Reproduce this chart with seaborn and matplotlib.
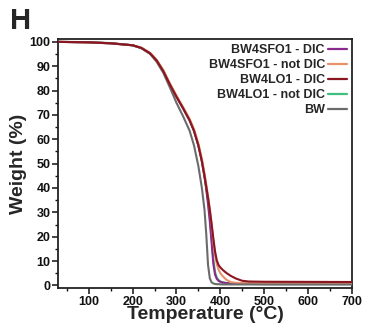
import numpy as np
import pandas as pd
import matplotlib
matplotlib.use("Agg")
import matplotlib.pyplot as plt
from matplotlib.ticker import MultipleLocator
import seaborn as sns

# Thermogravimetric curves: temperature (°C) vs remaining weight (%)
temperature = [30, 100, 150, 200, 220, 240, 255, 270, 285, 300, 315, 330, 340, 350,
               358, 364, 368, 372, 376, 380, 384, 388, 392, 396, 400, 406, 414, 424,
               436, 450, 465, 500, 600, 700]

bw4sfo1_dic = [100, 99.8, 99.4, 98.6, 97.5, 95.3, 92.3, 88.0, 82.5, 77.5, 72.8, 67.8,
               63.5, 57.5, 51.0, 44.5, 39.5, 33.5, 26.5, 18.0, 9.0, 4.5, 2.7, 1.9,
               1.5, 1.15, 0.95, 0.8, 0.7, 0.65, 0.6, 0.6, 0.6, 0.6]
bw4sfo1_not_dic = [100, 99.8, 99.4, 98.6, 97.6, 95.5, 92.6, 88.4, 83.0, 78.0, 73.3,
                   68.4, 64.2, 58.3, 52.0, 46.0, 41.5, 36.8, 31.5, 25.5, 18.5, 12.5,
                   8.8, 6.5, 5.0, 3.7, 2.3, 1.35, 1.05, 0.95, 0.95, 0.95, 0.95, 0.95]
bw4lo1_dic = [100, 99.8, 99.4, 98.6, 97.5, 95.3, 92.3, 88.0, 82.5, 77.5, 72.8, 67.8,
              63.5, 57.5, 51.0, 45.0, 40.5, 36.0, 31.0, 25.5, 19.5, 14.0, 10.3, 8.4,
              7.4, 6.3, 5.1, 3.9, 2.8, 1.9, 1.6, 1.5, 1.45, 1.4]
bw4lo1_not_dic = [100, 99.8, 99.4, 98.6, 97.5, 95.3, 92.3, 88.0, 82.5, 77.5, 72.8, 67.8,
                  63.5, 57.5, 51.0, 44.8, 40.0, 34.5, 28.0, 20.0, 11.0, 5.5, 3.2, 2.2,
                  1.6, 1.25, 1.0, 0.85, 0.75, 0.7, 0.7, 0.7, 0.7, 0.7]
bw = [100, 99.9, 99.5, 98.6, 97.4, 95.0, 91.8, 87.3, 81.3, 75.0, 69.5, 63.5, 57.5,
      49.0, 40.0, 31.0, 21.0, 8.5, 3.0, 1.3, 0.8, 0.6, 0.5, 0.5, 0.45, 0.4, 0.4, 0.4,
      0.4, 0.4, 0.4, 0.35, 0.35, 0.35]

series_names = ["BW4SFO1 - DIC", "BW4SFO1 - not DIC", "BW4LO1 - DIC",
                "BW4LO1 - not DIC", "BW"]
series_values = [bw4sfo1_dic, bw4sfo1_not_dic, bw4lo1_dic, bw4lo1_not_dic, bw]
colors = ["#8a2a8c", "#e8916c", "#8b1520", "#3fbf7f", "#6b6b6b"]

df = pd.concat(
    [pd.DataFrame({"Temperature": temperature, "Weight": vals, "Sample": name})
     for name, vals in zip(series_names, series_values)],
    ignore_index=True,
)

sns.set_style("ticks")
plt.rcParams["font.family"] = ["Liberation Sans", "DejaVu Sans"]
plt.rcParams["font.weight"] = "bold"

fig = plt.figure(figsize=(3.65, 3.3), dpi=100)
ax = fig.add_axes([0.159, 0.127, 0.805, 0.755])

sns.lineplot(data=df, x="Temperature", y="Weight", hue="Sample",
             hue_order=series_names, palette=colors, linewidth=1.5,
             sort=False, estimator=None, ax=ax)

# draw order: green underneath, dark red on top
z = {"BW4SFO1 - DIC": 3, "BW4SFO1 - not DIC": 4, "BW4LO1 - DIC": 6,
     "BW4LO1 - not DIC": 2, "BW": 5}
for line, name in zip(ax.lines, series_names):
    line.set_zorder(z[name])
    line.set_solid_joinstyle("round")

ax.set_xlim(30, 700)
ax.set_ylim(-1.1, 101.2)
ax.xaxis.set_major_locator(MultipleLocator(100))
ax.xaxis.set_minor_locator(MultipleLocator(50))
ax.yaxis.set_major_locator(MultipleLocator(10))
ax.yaxis.set_minor_locator(MultipleLocator(5))
ax.set_xticks(range(100, 701, 100))

ax.tick_params(which="major", direction="out", length=4, width=1.1,
               labelsize=9, pad=1.5, colors="#111111")
ax.tick_params(which="minor", direction="out", length=2, width=1.0, colors="#111111")
for lbl in ax.get_xticklabels() + ax.get_yticklabels():
    lbl.set_fontweight("bold")

for side in ["left", "bottom", "top", "right"]:
    ax.spines[side].set_visible(True)
    ax.spines[side].set_linewidth(1.3)
    ax.spines[side].set_color("#222222")

ax.set_xlabel("Temperature (°C)", fontsize=14, fontweight="bold", labelpad=-1)
ax.set_ylabel("Weight (%)", fontsize=14, fontweight="bold", labelpad=2)

handles, labels = ax.get_legend_handles_labels()
leg = ax.legend(handles, labels, loc="upper right", frameon=False,
                markerfirst=False, fontsize=9, handlelength=1.5,
                handletextpad=0.25, labelspacing=0.25, borderpad=0.2,
                borderaxespad=0.2)
for t in leg.get_texts():
    t.set_fontweight("bold")
    t.set_ha("right")
leg._legend_box.align = "right"
for h in leg.get_lines():
    h.set_linewidth(1.6)

fig.text(0.027, 0.978, "H", fontsize=21, fontweight="bold", va="top", ha="left")

fig.savefig("out.png", dpi=100)
